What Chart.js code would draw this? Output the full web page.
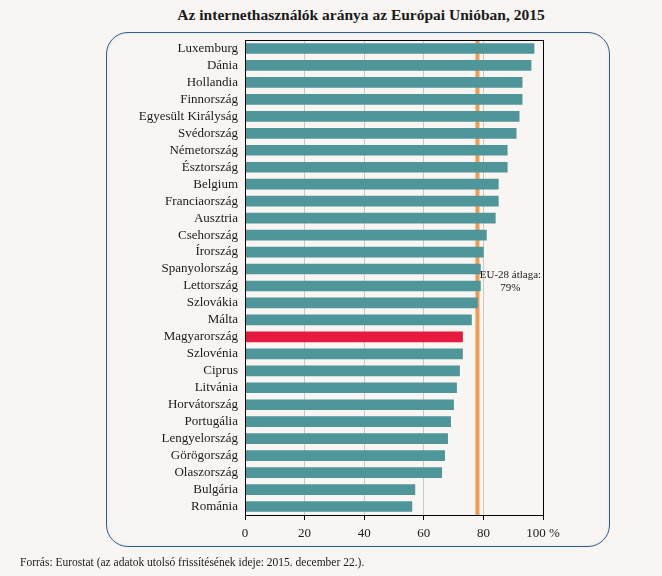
<!DOCTYPE html>
<html>
<head>
<meta charset="utf-8">
<script src="https://cdn.jsdelivr.net/npm/chart.js@4"></script>
<style>
  html, body { margin:0; padding:0; background:#f8f5f2; width:662px; height:576px; overflow:hidden; }
  #title { position:absolute; left:0; top:6px; width:722px; text-align:center; font:bold 15.5px "Liberation Serif", serif; color:#1a1a1a; }
  #box { position:absolute; left:106px; top:32px; width:502px; height:513px; border:1.5px solid #2f5d8c; border-radius:22px; box-shadow: inset 0 0 3px #dbe6f0; }
  #chartWrap { position:absolute; left:0; top:0; width:662px; height:576px; }
  #note { position:absolute; left:20px; top:556px; font:11.5px "Liberation Serif", serif; color:#1a1a1a; }
</style>
</head>
<body>
<div id="title">Az internethasználók aránya az Európai Unióban, 2015</div>
<div id="box"></div>
<div id="chartWrap"><canvas id="c" width="662" height="576"></canvas></div>
<div id="note">Forrás: Eurostat (az adatok utolsó frissítésének ideje: 2015. december 22.).</div>
<script>
const countries = ["Luxemburg","Dánia","Hollandia","Finnország","Egyesült Királyság","Svédország","Németország","Észtország","Belgium","Franciaország","Ausztria","Csehország","Írország","Spanyolország","Lettország","Szlovákia","Málta","Magyarország","Szlovénia","Ciprus","Litvánia","Horvátország","Portugália","Lengyelország","Görögország","Olaszország","Bulgária","Románia"];
const shares = [97,96,93,93,92,91,88,88,85,85,84,81,80,79,79,78,76,73,73,72,71,70,69,68,67,66,57,56];
const xTicks = [0,20,40,60,80,100];
const euAverage = 78;
const euLabel = ["EU-28 átlaga:", "79%"];
const highlighted = "Magyarország";

const TEAL = "#4f969a", RED = "#e8193f", ORANGE = "#f29a4e";
const FONT = '"Liberation Serif", serif';

const framePlugin = {
  id: 'frame',
  beforeDatasetsDraw(chart) {
    const {ctx, chartArea: a, scales: {x}} = chart;
    const px = x.getPixelForValue(euAverage);
    ctx.save();
    ctx.strokeStyle = ORANGE; ctx.lineWidth = 4;
    ctx.beginPath(); ctx.moveTo(px, a.top); ctx.lineTo(px, a.bottom); ctx.stroke();
    ctx.restore();
  },
  afterDatasetsDraw(chart) {
    const {ctx, chartArea: a, scales: {x}} = chart;
    ctx.save();
    ctx.strokeStyle = '#000'; ctx.lineWidth = 1;
    ctx.strokeRect(Math.round(a.left)+0.5, Math.round(a.top)+0.5, Math.round(a.right - a.left), Math.round(a.bottom - a.top));
    ctx.fillStyle = '#1a1a1a';
    ctx.font = '11px ' + FONT;
    ctx.textAlign = 'center'; ctx.textBaseline = 'middle';
    const cx = x.getPixelForValue(euAverage) + 33;
    ctx.fillText(euLabel[0], cx, 275);
    ctx.fillText(euLabel[1], cx, 288);
    ctx.restore();
  }
};

new Chart(document.getElementById('c'), {
  type: 'bar',
  data: {
    labels: countries,
    datasets: [{
      data: shares,
      backgroundColor: countries.map(c => c === highlighted ? RED : TEAL),
      barThickness: 10,
      borderWidth: 0
    }]
  },
  options: {
    indexAxis: 'y',
    responsive: false,
    animation: false,
    layout: { padding: { left: 0, top: 40, right: 119, bottom: 0 } },
    plugins: { legend: { display: false }, tooltip: { enabled: false } },
    scales: {
      y: {
        grid: { display: false, drawTicks: false },
        border: { display: false },
        ticks: { padding: 7, color: '#1a1a1a', font: { family: FONT, size: 13 }, autoSkip: false },
        afterFit(s) { s.width = 245; }
      },
      x: {
        min: 0, max: 100,
        afterBuildTicks(s) { s.ticks = xTicks.map(v => ({value: v})); },
        grid: {
          color: c => (c.tick && (c.tick.value === 0 || c.tick.value === 100)) ? 'rgba(0,0,0,0)' : '#c9c9c9',
          tickColor: '#000', tickLength: 5, lineWidth: 1
        },
        border: { display: false },
        ticks: {
          padding: 6, color: '#1a1a1a', font: { family: FONT, size: 13 },
          callback: v => v === 100 ? '100 %' : String(v)
        },
        afterFit(s) { s.height = 61; }
      }
    }
  },
  plugins: [framePlugin]
});
</script>
</body>
</html>
